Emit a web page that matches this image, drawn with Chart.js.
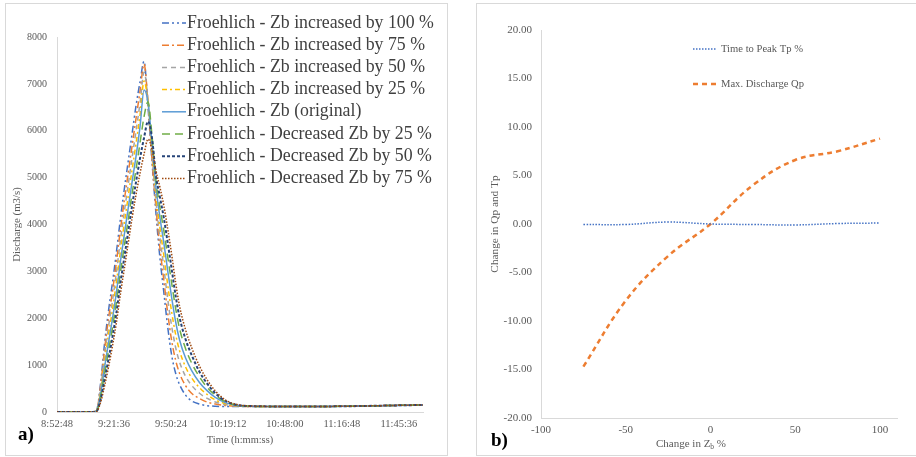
<!DOCTYPE html>
<html>
<head>
<meta charset="utf-8">
<title>Froehlich breach sensitivity</title>
<script src="https://cdn.jsdelivr.net/npm/chart.js@4.4.1/dist/chart.umd.min.js"></script>
<style>
  html, body { margin: 0; padding: 0; background: #fff; }
  body { position: relative; width: 916px; height: 457px; overflow: hidden; font-family: "Liberation Serif", "Times New Roman", serif; }
  .panel { position: absolute; border: 1px solid #d9d9d9; box-sizing: border-box; }
  canvas { position: absolute; }
  .tag { position: absolute; font-weight: bold; font-size: 19px; line-height: 1; color: #000; }
</style>
</head>
<body>
<div class="panel" style="left:5px;top:3px;width:443px;height:453px"></div>
<div class="panel" style="left:476px;top:3px;width:441px;height:453px"></div>
<canvas id="hydro" width="442" height="451" style="left:5px;top:3px"></canvas>
<canvas id="sens" width="440" height="451" style="left:476px;top:3px"></canvas>
<div class="tag" style="left:18px;top:424px">a)</div>
<div class="tag" style="left:491px;top:430px">b)</div>
<script>
const FONT = '"Liberation Serif", "Times New Roman", serif';

// a) discharge hydrographs, time in minutes after 8:52:48
const minutes = [0, 18, 20, 22, 24, 26, 28, 30, 32, 34, 36, 38, 40, 42, 44, 46, 48, 50, 52, 54, 56, 58, 60, 62, 65, 68, 72, 76, 80, 85, 90, 100, 115, 130, 150, 170, 185];
const zbUp100 = [0, 0, 40, 600, 1450, 2150, 2750, 3400, 4100, 4750, 5350, 5950, 6550, 7050, 7480, 6500, 5350, 4250, 3300, 2550, 1800, 1200, 820, 580, 360, 240, 170, 135, 122, 118, 116, 115, 115, 117, 125, 140, 150];
const zbUp75 = [0, 0, 35, 540, 1320, 1980, 2560, 3190, 3870, 4510, 5100, 5690, 6280, 6850, 7420, 6600, 5400, 4380, 3510, 2810, 2100, 1510, 1100, 820, 560, 400, 290, 210, 170, 140, 125, 116, 115, 117, 125, 140, 150];
const zbUp50 = [0, 0, 30, 490, 1190, 1810, 2360, 2970, 3640, 4260, 4850, 5440, 6010, 6600, 7250, 6650, 5500, 4510, 3730, 3080, 2400, 1820, 1370, 1060, 760, 570, 400, 290, 215, 160, 130, 118, 116, 117, 125, 140, 150];
const zbUp25 = [0, 0, 25, 430, 1060, 1640, 2170, 2760, 3410, 4020, 4600, 5180, 5740, 6350, 7060, 6600, 5600, 4650, 3940, 3340, 2700, 2120, 1650, 1300, 960, 730, 520, 370, 260, 180, 140, 120, 116, 117, 125, 140, 150];
const zbOriginal = [0, 0, 20, 370, 940, 1470, 1980, 2540, 3190, 3780, 4350, 4920, 5470, 6100, 6870, 6600, 5750, 4800, 4160, 3610, 3000, 2430, 1920, 1530, 1150, 890, 630, 450, 310, 200, 150, 120, 117, 117, 125, 140, 150];
const zbDown25 = [0, 0, 20, 310, 810, 1290, 1790, 2330, 2960, 3540, 4100, 4670, 5190, 5750, 6300, 6620, 5900, 4950, 4370, 3870, 3300, 2740, 2200, 1770, 1350, 1050, 750, 520, 360, 220, 155, 120, 117, 117, 125, 140, 150];
const zbDown50 = [0, 0, 15, 260, 680, 1120, 1590, 2110, 2730, 3290, 3850, 4410, 4920, 5420, 5850, 6200, 5850, 5050, 4590, 4140, 3600, 3040, 2470, 2010, 1550, 1220, 860, 600, 400, 240, 160, 125, 118, 118, 125, 140, 150];
const zbDown75 = [0, 0, 10, 200, 550, 950, 1400, 1900, 2500, 3050, 3600, 4150, 4650, 5100, 5500, 5820, 5600, 5150, 4800, 4400, 3900, 3350, 2750, 2250, 1750, 1380, 980, 680, 450, 260, 170, 125, 118, 118, 125, 140, 150];
const hydroNames = [
  'Froehlich - Zb increased by 100 %',
  'Froehlich - Zb increased by 75 %',
  'Froehlich - Zb increased by 50 %',
  'Froehlich - Zb increased by 25 %',
  'Froehlich - Zb (original)',
  'Froehlich - Decreased Zb by 25 %',
  'Froehlich - Decreased Zb by 50 %',
  'Froehlich - Decreased Zb by 75 %'
];
const hydroValues = [zbUp100, zbUp75, zbUp50, zbUp25, zbOriginal, zbDown25, zbDown50, zbDown75];
const timeTickLabels = ['8:52:48', '9:21:36', '9:50:24', '10:19:12', '10:48:00', '11:16:48', '11:45:36'];
const timeTickStep = 28.8; // minutes

// b) sensitivity of peak discharge and time to peak
const zbChange = [-75, -50, -25, 0, 25, 50, 75, 100];
const tpChange = [-0.05, -0.05, 0.2, 0, -0.05, -0.1, 0.05, 0.1];
const qpChange = [-14.7, -7.9, -3.3, 0, 4.0, 6.6, 7.5, 8.8];
const zbTicks = [-100, -50, 0, 50, 100];

// line styles (Excel defaults)
const hydroStyles = [
  { color: '#4472c4', dash: [7, 3, 2, 3, 2, 3], width: 1.5 },
  { color: '#ed7d31', dash: [7, 3, 2, 3], width: 1.5 },
  { color: '#a5a5a5', dash: [5, 4], width: 1.5 },
  { color: '#ffc000', dash: [5, 3, 2, 3], width: 1.5 },
  { color: '#5b9bd5', dash: [], width: 1.5 },
  { color: '#70ad47', dash: [8, 5], width: 1.5 },
  { color: '#264478', dash: [3, 2], width: 2 },
  { color: '#9e480e', dash: [1.5, 1.5], width: 1.5 }
];

// legend drawn inside the plot like the Excel one
const insideLegend = {
  id: 'insideLegend',
  afterDraw(chart, args, o) {
    const ctx = chart.ctx;
    ctx.save();
    ctx.font = `${o.size}px ${FONT}`;
    ctx.textBaseline = 'middle';
    chart.data.datasets.forEach((ds, i) => {
      const y = o.y + i * o.rowHeight;
      ctx.strokeStyle = ds.borderColor;
      ctx.lineWidth = ds.borderWidth;
      ctx.setLineDash(ds.borderDash || []);
      ctx.beginPath();
      ctx.moveTo(o.x, y);
      ctx.lineTo(o.x + o.sample, y);
      ctx.stroke();
      ctx.setLineDash([]);
      ctx.fillStyle = o.color;
      ctx.fillText(ds.label, o.x + o.sample + o.gap, y);
    });
    ctx.restore();
  }
};

// axis title with subscript b
const zbTitle = {
  id: 'zbTitle',
  afterDraw(chart, args, o) {
    const ctx = chart.ctx;
    const main = `${o.size}px ${FONT}`;
    const small = `${o.size * 0.68}px ${FONT}`;
    ctx.save();
    ctx.fillStyle = o.color;
    ctx.textBaseline = 'alphabetic';
    ctx.font = main;
    const w1 = ctx.measureText(o.before).width;
    const w3 = ctx.measureText(o.after).width;
    ctx.font = small;
    const w2 = ctx.measureText(o.sub).width;
    let x = o.x - (w1 + w2 + w3) / 2;
    ctx.font = main;
    ctx.fillText(o.before, x, o.y);
    x += w1;
    ctx.font = small;
    ctx.fillText(o.sub, x, o.y + o.size * 0.22);
    x += w2;
    ctx.font = main;
    ctx.fillText(o.after, x, o.y);
    ctx.restore();
  }
};

function hydroChart() {
  const datasets = hydroValues.map((vals, i) => ({
    label: hydroNames[i],
    data: minutes.map((m, j) => ({ x: m, y: vals[j] })),
    borderColor: hydroStyles[i].color,
    borderDash: hydroStyles[i].dash,
    borderWidth: hydroStyles[i].width,
    order: hydroValues.length - i
  }));

  new Chart(document.getElementById('hydro'), {
    type: 'line',
    data: { datasets },
    plugins: [insideLegend],
    options: {
      responsive: false,
      animation: false,
      devicePixelRatio: 1,
      layout: { padding: { left: 0, right: 24, top: 34, bottom: 0 } },
      elements: {
        point: { radius: 0 },
        line: { cubicInterpolationMode: 'monotone', fill: false }
      },
      plugins: {
        legend: { display: false },
        tooltip: { enabled: false },
        insideLegend: { x: 157, y: 20, rowHeight: 22.2, sample: 24, gap: 1, size: 17.8, color: '#404040' }
      },
      scales: {
        x: {
          type: 'linear',
          min: 0,
          max: 185,
          grid: { display: false, drawTicks: false },
          border: { display: true, color: '#d9d9d9' },
          afterBuildTicks: s => { s.ticks = timeTickLabels.map((l, i) => ({ value: i * timeTickStep })); },
          afterFit: s => { s.height = 42; },
          ticks: {
            padding: 6,
            color: '#595959',
            maxRotation: 0,
            font: { family: FONT, size: 10.5 },
            callback: (v, i) => timeTickLabels[i]
          },
          title: {
            display: true,
            text: 'Time (h:mm:ss)',
            color: '#595959',
            font: { family: FONT, size: 10.4 },
            padding: { top: 0, bottom: 7.5 }
          }
        },
        y: {
          min: 0,
          max: 8000,
          grid: { display: false, drawTicks: false },
          border: { display: true, color: '#d9d9d9' },
          afterFit: s => { s.width = 52; },
          ticks: {
            stepSize: 1000,
            padding: 10,
            color: '#595959',
            font: { family: FONT, size: 10 },
            callback: v => String(v)
          },
          title: {
            display: true,
            text: 'Discharge (m3/s)',
            color: '#595959',
            font: { family: FONT, size: 10.8 },
            padding: { top: 5.5, bottom: 0 }
          }
        }
      }
    }
  });
}

function sensChart() {
  new Chart(document.getElementById('sens'), {
    type: 'line',
    data: {
      datasets: [
        {
          label: 'Time to Peak Tp %',
          data: zbChange.map((z, i) => ({ x: z, y: tpChange[i] })),
          borderColor: '#4472c4',
          borderDash: [1.5, 1.5],
          borderWidth: 1.5,
          tension: 0.4
        },
        {
          label: 'Max. Discharge Qp',
          data: zbChange.map((z, i) => ({ x: z, y: qpChange[i] })),
          borderColor: '#ed7d31',
          borderDash: [5, 4],
          borderWidth: 2.5,
          tension: 0.4
        }
      ]
    },
    plugins: [insideLegend, zbTitle],
    options: {
      responsive: false,
      animation: false,
      devicePixelRatio: 1,
      layout: { padding: { left: 0, right: 19, top: 27, bottom: 0 } },
      elements: { point: { radius: 0 }, line: { fill: false } },
      plugins: {
        legend: { display: false },
        tooltip: { enabled: false },
        insideLegend: { x: 217, y: 46, rowHeight: 35, sample: 24, gap: 4, size: 10.6, color: '#595959' },
        zbTitle: { x: 215, y: 444, size: 11, color: '#595959', before: 'Change in Z', sub: 'b', after: ' %' }
      },
      scales: {
        x: {
          type: 'linear',
          min: -100,
          max: 110,
          grid: { display: false, drawTicks: false },
          border: { display: true, color: '#d9d9d9' },
          afterBuildTicks: s => { s.ticks = zbTicks.map(v => ({ value: v })); },
          afterFit: s => { s.height = 36; },
          ticks: {
            padding: 6,
            color: '#595959',
            maxRotation: 0,
            font: { family: FONT, size: 11 }
          }
        },
        y: {
          min: -20,
          max: 20,
          grid: { display: false, drawTicks: false },
          border: { display: true, color: '#d9d9d9' },
          afterFit: s => { s.width = 65; },
          ticks: {
            stepSize: 5,
            padding: 9,
            color: '#595959',
            font: { family: FONT, size: 11 },
            callback: v => v.toFixed(2)
          },
          title: {
            display: true,
            text: 'Change in Qp and Tp',
            color: '#595959',
            font: { family: FONT, size: 11.3 },
            padding: { top: 12, bottom: 0 }
          }
        }
      }
    }
  });
}

hydroChart();
sensChart();
</script>
</body>
</html>
